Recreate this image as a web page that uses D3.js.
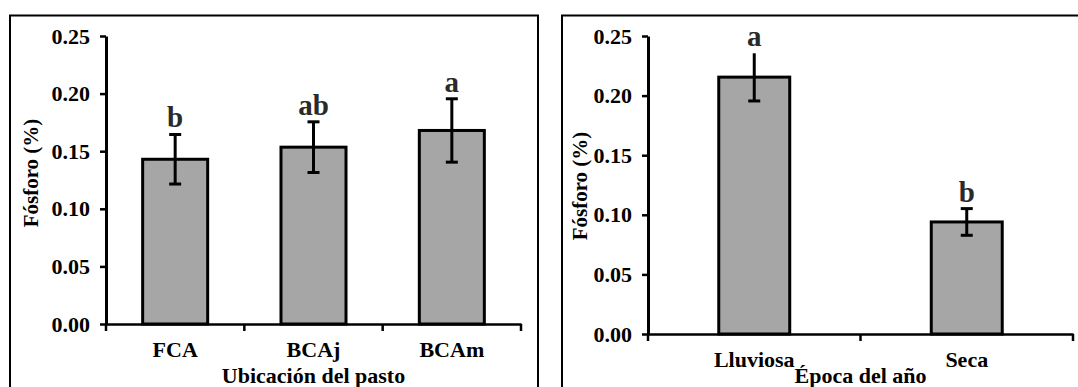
<!DOCTYPE html>
<html>
<head>
<meta charset="utf-8">
<script src="https://cdn.jsdelivr.net/npm/d3@7"></script>
<style>
  body { margin: 0; background: #fff; }
  .ser { font-family: 'Liberation Serif', 'Times New Roman', Times, serif; font-weight: 700; }
</style>
</head>
<body>
<div id="chart"></div>
<script>
// data
var ubicacion = ["FCA", "BCAj", "BCAm"];
var fosforoUbicacion = [0.143, 0.1535, 0.168];
var errUbicacion = [0.0215, 0.022, 0.0275];
var letrasUbicacion = ["b", "ab", "a"];

var epoca = ["Lluviosa", "Seca"];
var fosforoEpoca = [0.2155, 0.094];
var errEpoca = [0.02, 0.0112];
var letrasEpoca = ["a", "b"];

var yTicks = [0, 0.05, 0.10, 0.15, 0.20, 0.25];

var svgWidth = 1078;
var svgHeight = 387;

var svg = d3.select("#chart")
  .append("svg")
  .attr("width", svgWidth)
  .attr("height", svgHeight);

function drawPanel(p) {
  // frame around each panel (cut by the picture edges)
  svg.append("rect")
    .attr("x", p.box[0])
    .attr("y", p.box[1])
    .attr("width", p.box[2])
    .attr("height", p.box[3])
    .attr("fill", "none")
    .attr("stroke", "#000")
    .attr("stroke-width", 2);

  var x = d3.scaleBand()
    .domain(p.cats)
    .range([p.left, p.right])
    .padding(0);

  var y = d3.scaleLinear()
    .domain([0, 0.25])
    .range([p.bottom, p.top]);

  var g = svg.append("g");

  // bars
  var bw = x.bandwidth() * p.barFrac;
  g.selectAll(".bar")
    .data(p.cats)
    .enter()
    .append("rect")
    .attr("x", d => x(d) + (x.bandwidth() - bw) / 2)
    .attr("y", (d, i) => y(p.vals[i]))
    .attr("width", bw)
    .attr("height", (d, i) => y(0) - y(p.vals[i]))
    .attr("fill", "#a6a6a6")
    .attr("stroke", "#000")
    .attr("stroke-width", 3);

  // error bars + letters
  var cap = 6;
  p.cats.forEach(function(c, i) {
    var cx = x(c) + x.bandwidth() / 2;
    var hi = y(p.vals[i] + p.errs[i]);
    var lo = y(p.vals[i] - p.errs[i]);
    g.append("line")
      .attr("x1", cx).attr("x2", cx)
      .attr("y1", hi).attr("y2", lo)
      .attr("stroke", "#000").attr("stroke-width", 3);
    if (!p.noTopCap.includes(c)) {
      g.append("line")
        .attr("x1", cx - cap).attr("x2", cx + cap)
        .attr("y1", hi).attr("y2", hi)
        .attr("stroke", "#000").attr("stroke-width", 3);
    }
    g.append("line")
      .attr("x1", cx - cap).attr("x2", cx + cap)
      .attr("y1", lo).attr("y2", lo)
      .attr("stroke", "#000").attr("stroke-width", 3);

    g.append("text")
      .attr("class", "ser")
      .attr("x", cx)
      .attr("y", hi - 7)
      .attr("text-anchor", "middle")
      .style("font-size", "29px")
      .attr("fill", "#2a2a2a")
      .text(p.letters[i]);
  });

  // y axis
  var yAxis = g.append("g")
    .attr("transform", `translate(${p.left},0)`)
    .call(d3.axisLeft(y)
      .tickValues(yTicks)
      .tickFormat(d3.format(".2f"))
      .tickSize(6)
      .tickSizeOuter(0)
      .tickPadding(10));
  yAxis.attr("font-family", null).attr("font-size", null);
  yAxis.select(".domain").attr("stroke-width", 3);
  yAxis.selectAll(".tick line").attr("stroke-width", 2.5);
  yAxis.selectAll("text")
    .attr("class", "ser")
    .style("font-size", "22px")
    .attr("fill", "#000");

  // x axis
  var xAxis = g.append("g")
    .attr("transform", `translate(0,${p.bottom})`)
    .call(d3.axisBottom(x)
      .tickSize(0)
      .tickSizeOuter(0)
      .tickPadding(17));
  xAxis.attr("font-family", null).attr("font-size", null);
  xAxis.select(".domain").attr("stroke-width", 2.5);
  xAxis.selectAll("text")
    .attr("class", "ser")
    .style("font-size", "22px")
    .attr("fill", "#000");

  // category boundary ticks
  var edges = p.cats.map(c => x(c)).concat([p.right]);
  g.selectAll(".edge")
    .data(edges)
    .enter()
    .append("line")
    .attr("x1", d => d).attr("x2", d => d)
    .attr("y1", p.bottom).attr("y2", p.bottom + 7)
    .attr("stroke", "#000")
    .attr("stroke-width", 2.5);

  // axis titles
  g.append("text")
    .attr("class", "ser")
    .attr("x", (p.left + p.right) / 2)
    .attr("y", p.xTitleY)
    .attr("text-anchor", "middle")
    .style("font-size", "22px")
    .text(p.xTitle);

  g.append("text")
    .attr("class", "ser")
    .attr("transform", `translate(${p.yTitleX},${p.yTitleY}) rotate(-90)`)
    .attr("text-anchor", "middle")
    .attr("dy", "0.35em")
    .style("font-size", "21px")
    .text("Fósforo (%)");
}

drawPanel({
  box: [10, 15.5, 528, 400],
  cats: ubicacion,
  vals: fosforoUbicacion,
  errs: errUbicacion,
  letters: letrasUbicacion,
  noTopCap: [],
  left: 106, right: 521, top: 36, bottom: 324,
  barFrac: 0.47,
  xTitle: "Ubicación del pasto",
  xTitleY: 383,
  yTitleX: 31, yTitleY: 173
});

drawPanel({
  box: [562, 15.5, 540, 400],
  cats: epoca,
  vals: fosforoEpoca,
  errs: errEpoca,
  letters: letrasEpoca,
  noTopCap: ["Lluviosa"],
  left: 648, right: 1073, top: 36, bottom: 334,
  barFrac: 0.334,
  xTitle: "Época del año",
  xTitleY: 383,
  yTitleX: 580, yTitleY: 186
});
</script>
</body>
</html>
